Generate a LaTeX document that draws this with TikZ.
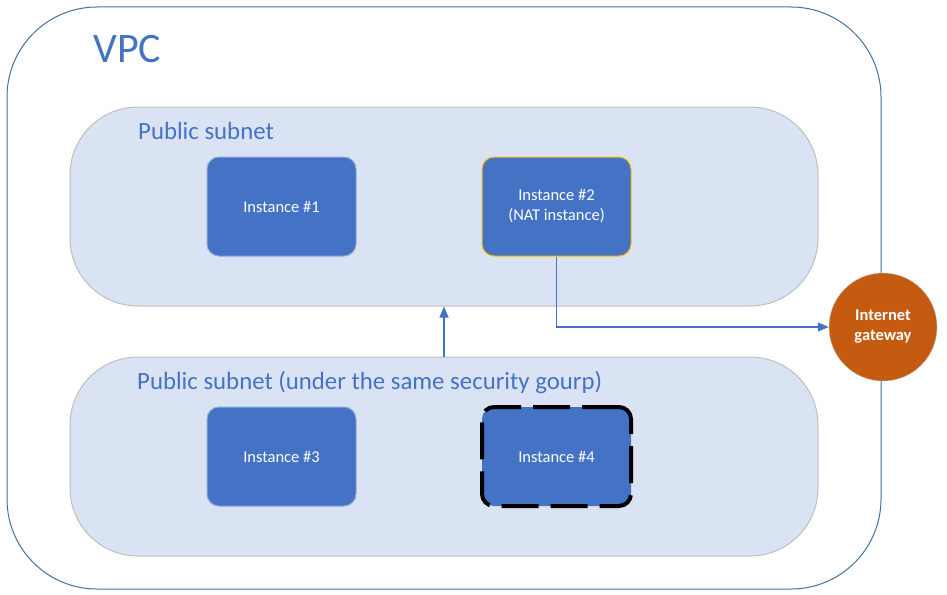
\documentclass[tikz,border=0pt]{standalone}
\usepackage{fontspec}
\setmainfont{Carlito}
\usetikzlibrary{positioning}
\usetikzlibrary{arrows.meta}

\definecolor{vpcblue}{HTML}{41719C}
\definecolor{labelblue}{HTML}{4472C4}
\definecolor{subfill}{HTML}{DAE3F3}
\definecolor{subline}{HTML}{BFBFBF}
\definecolor{instline}{HTML}{8FAADC}
\definecolor{natline}{HTML}{FFC000}
\definecolor{gwfill}{HTML}{C55A11}

\begin{document}
\begin{tikzpicture}[x=1pt,y=-1pt,
		vpcbox/.style={rectangle,rounded corners=90pt,draw=vpcblue,line width=1pt,minimum width=874pt,minimum height=582pt},
		subbox/.style={rectangle,rounded corners=68pt,draw=subline,fill=subfill,line width=1pt,minimum width=748pt,minimum height=199pt},
		inode/.style={rectangle,rounded corners=12pt,draw=instline,fill=labelblue,line width=1pt,minimum width=149pt,minimum height=99pt,text=white,font=\fontsize{16.5}{20}\selectfont,align=center},
		title/.style={anchor=base west,text=labelblue,inner sep=0pt},
		link/.style={draw=labelblue,line width=1.3pt,-{Triangle[length=11pt,width=9pt]}}]
		\useasboundingbox (0,0) rectangle (947,594);
		\node[vpcbox] (vpc) at (444,298){};
		\node[title,font=\fontsize{42}{50}\selectfont] (vpclabel) at (93,63){VPC};
		\node[subbox] (sub1) at (444,206.5){};
		\node[subbox] (sub2) at (444,456.5){};
		\node[title,font=\fontsize{24.8}{30}\selectfont] (sub1label) at (138,139){Public subnet};
		\node[title,font=\fontsize{24.8}{30}\selectfont] (sub2label) at (137,389){Public subnet (under the same security gourp)};
		\node[inode] (inst1) at (281.5,206.5){Instance \#1};
		\node[inode,draw=natline] (inst2) at (556.5,206.5){Instance \#2\\(NAT instance)};
		\node[inode] (inst3) at (281.5,456.5){Instance \#3};
		\node[inode,draw=black,line width=4pt,dash pattern=on 37pt off 12pt] (inst4) at (556.5,456.5){Instance \#4};
		\node[circle,draw=subline,fill=gwfill,minimum size=108pt,inner sep=0pt,text=white,align=center,font=\bfseries\fontsize{16.5}{20}\selectfont] (igw) at (883,327){Internet\\gateway};
		\draw[link] (sub2.north) -- (sub1.south);
		\draw[link] (inst2.south) |- (igw.west);
	\end{tikzpicture}
\end{document}
